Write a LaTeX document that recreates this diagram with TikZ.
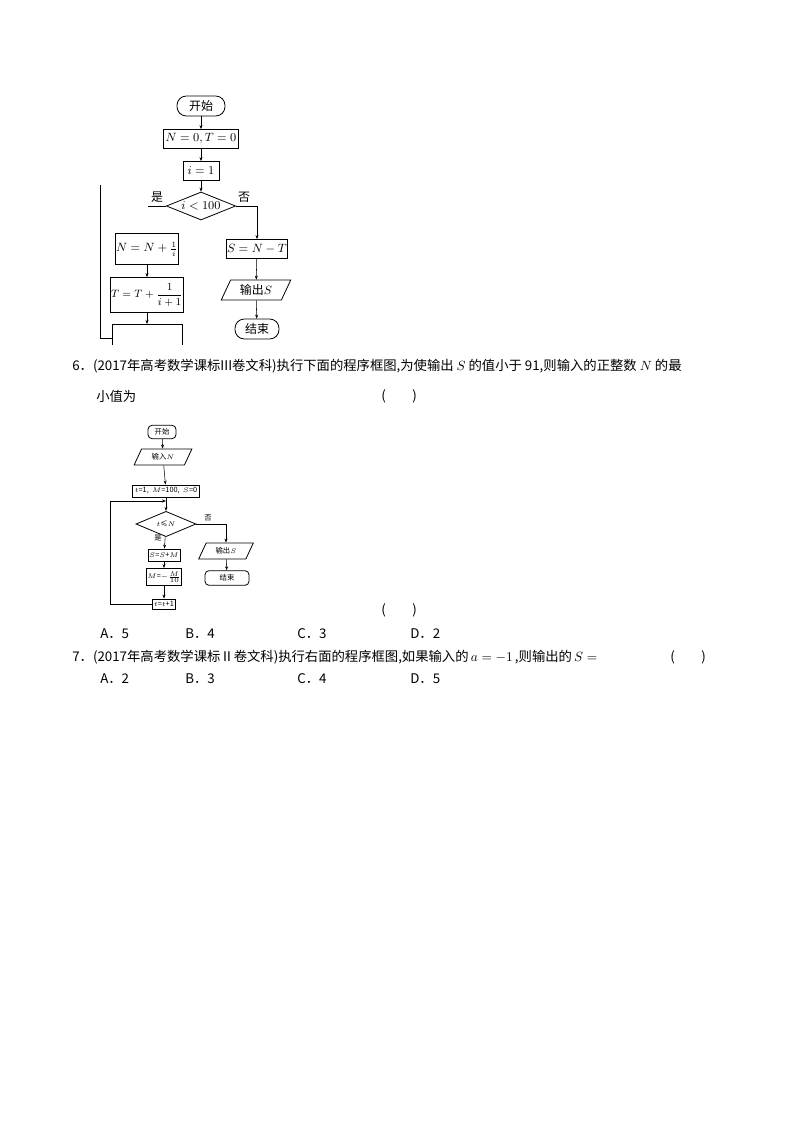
\documentclass[tikz,border=0pt]{standalone}
\usepackage{fontspec}
\setmainfont{Liberation Serif}
\newfontfamily\cjk{Noto Sans CJK SC}
\usetikzlibrary{shapes.geometric,arrows.meta}
\begin{document}
\begin{tikzpicture}[x=0.75pt,y=-0.75pt,
  box/.style={draw,semithick,inner sep=0.5pt,minimum height=#1*0.75pt},
  box/.default=19,
  term/.style={draw,rounded corners=7pt,semithick,inner sep=1pt},
  dia/.style={draw,semithick,diamond,aspect=2.5,inner sep=0pt},
  io/.style={draw,semithick,trapezium,trapezium left angle=65,trapezium right angle=115,inner sep=1pt},
  ar/.style={-{Stealth[length=3pt]}},
  txt/.style={anchor=west,inner sep=0pt,font=\cjk\fontsize{10}{12}\selectfont},
  sm/.style={font=\cjk\fontsize{5.5}{6.5}\selectfont},
  fc/.style={font=\cjk\small}]
\useasboundingbox (0,0) rectangle (794,1123);
% ---- flowchart 1
\node[term,minimum width=36pt,minimum height=15pt,fc] (s1) at (201,106) {开始};
\node[box,minimum width=56pt,fc] (a1) at (201,139) {$N=0,T=0$};
\node[box,minimum width=27pt,fc] (b1) at (201,171) {$i=1$};
\node[dia,minimum width=52pt,minimum height=21pt,fc] (d1) at (201,206) {$i<100$};
\node[box=31,minimum width=43pt,fc] (n1) at (147,249) {$N=N+\frac{1}{i}$};
\node[box=35,minimum width=52pt,font=\cjk\footnotesize] (t1) at (147,295) {$\displaystyle T=T+\frac{1}{i+1}$};
\node[box,minimum width=42pt,fc] (e1) at (257,249) {$S=N-T$};
\node[io,minimum width=48pt,minimum height=15pt,fc] (o1) at (256,290) {输出$S$};
\node[term,minimum width=33pt,minimum height=15pt,fc] (f1) at (257,329) {结束};
\draw[ar] (s1) -- (a1);
\draw[ar] (a1) -- (b1);
\draw[ar] (b1) -- (d1);
\coordinate (y1) at (148,206);
\draw (d1.west) -- (y1);
\node[fc] at (157,197) {是};
\node[fc] at (244,197) {否};
\draw[ar] (d1.east) -| (e1.north);
\draw[ar] (e1) -- (o1);
\draw[ar] (o1) -- (f1);
\draw[ar] (n1) -- (t1);
\coordinate (bx1) at (112,345);\coordinate (bx2) at (112,324);\coordinate (bx3) at (182,324);\coordinate (bx4) at (182,345);
\draw[semithick] (bx1) -- (bx2) -- (bx3) -- (bx4);
\draw[ar] (t1) -- (147,324);
\coordinate (l1) at (100,185);\coordinate (l2) at (100,338);\coordinate (l3) at (112,338);
\draw (l1) -- (l2) -- (l3);
% ---- question 6
\node[txt] (q6) at (72,366) {6．(2017年高考数学课标III卷文科)执行下面的程序框图,为使输出 $S$ 的值小于 91,则输入的正整数 $N$ 的最};
\node[txt] (q6b) at (96,396) {小值为};
\node[txt] (p6) at (381,396) {(\hspace{2em})};
% ---- flowchart 2
\node[term,rounded corners=3pt,minimum width=21pt,minimum height=10pt,sm] (s2) at (162,432) {开始};
\node[io,minimum width=36pt,minimum height=12pt,sm] (i2) at (163,457) {输入$N$};
\node[box=12,minimum width=50pt,sm] (a2) at (166,491) {$t$=1,\ \ $M$=100,\ \ $S$=0};
\node[dia,minimum width=45pt,minimum height=19pt,sm] (d2) at (166,524) {$t$≤$N$};
\node[box=12,minimum width=24pt,sm] (c2) at (164,555) {$S$=$S$+$M$};
\node[box=17,minimum width=26pt,sm] (m2) at (164,577) {$M$=$-\frac{M}{10}$};
\node[box=10,minimum width=17pt,sm] (t2) at (164,604) {$t$=$t$+1};
\node[io,minimum width=32pt,minimum height=12pt,sm] (o2) at (226,551) {输出$S$};
\node[term,rounded corners=3pt,minimum width=33pt,minimum height=11pt,sm] (f2) at (227,578) {结束};
\draw[ar] (s2) -- (i2);
\draw[ar] (i2) -- (a2);
\draw[ar] (a2) -- (d2);
\draw[ar] (d2) -- (c2);
\draw[ar] (c2) -- (m2);
\draw[ar] (m2) -- (t2);
\draw[ar] (d2.east) -| (o2.north);
\draw[ar] (o2) -- (f2);
\coordinate (r2) at (166,501);
\draw[ar] (t2.west) -- (110,604) -- (110,501) -- (r2);
\node[sm] at (208,518) {否};
\node[sm] at (158,538) {是};
\node[txt] (p6b) at (381,610) {(\hspace{2em})};
\node[txt] (o6a) at (100,634) {A．5};
\node[txt] (o6b) at (185,634) {B．4};
\node[txt] (o6c) at (297,634) {C．3};
\node[txt] (o6d) at (410,634) {D．2};
% ---- question 7
\node[txt] (q7) at (72,657) {7．(2017年高考数学课标Ⅱ卷文科)执行右面的程序框图,如果输入的\,$a=-1$\,,则输出的\,$S=$};
\node[txt] (p7) at (670,657) {(\hspace{2em})};
\node[txt] (o7a) at (100,679) {A．2};
\node[txt] (o7b) at (185,679) {B．3};
\node[txt] (o7c) at (297,679) {C．4};
\node[txt] (o7d) at (410,679) {D．5};
\end{tikzpicture}
\end{document}
